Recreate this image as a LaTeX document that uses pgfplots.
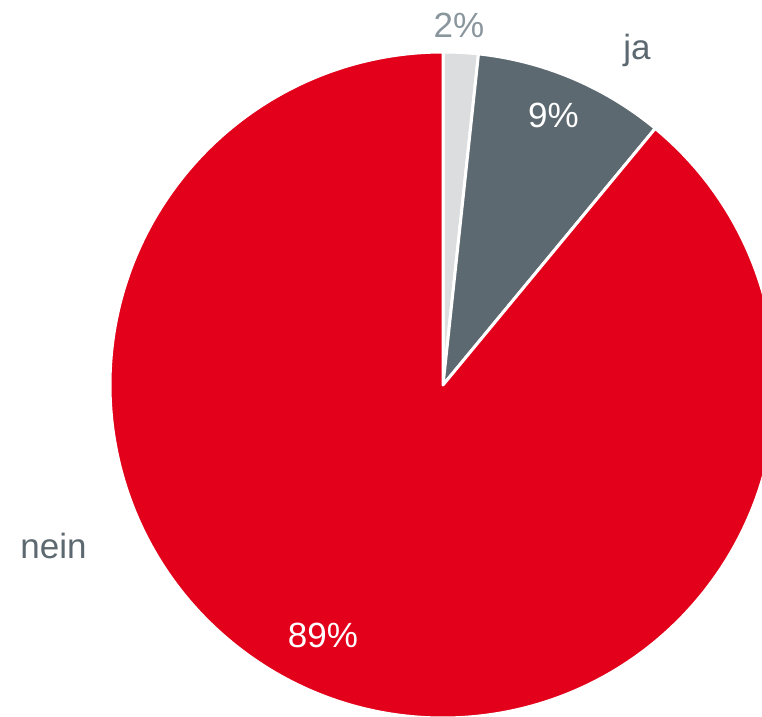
\documentclass[border=0pt]{standalone}
\usepackage{pgfplots}
\usepackage{pgfplotstable}
\pgfplotsset{compat=1.18}
\usepackage{fontspec}
\setmainfont{Liberation Sans}
\definecolor{redc}{HTML}{E2001A}
\definecolor{darkg}{HTML}{5D6970}
\definecolor{lightg}{HTML}{DCDDDF}
\definecolor{labg}{HTML}{8A969D}
\pgfplotstableread{
value
1.7
9.3
89.0
}\piedata
\begin{document}
\begin{tikzpicture}
\pgfplotstablegetelem{0}{value}\of\piedata \let\va\pgfplotsretval
\pgfplotstablegetelem{1}{value}\of\piedata \let\vb\pgfplotsretval
\pgfplotstablegetelem{2}{value}\of\piedata \let\vc\pgfplotsretval
\pgfmathsetmacro\aA{90}
\pgfmathsetmacro\aB{90-3.6*\va}
\pgfmathsetmacro\aC{\aB-3.6*\vb}
\pgfmathsetmacro\aD{\aC-3.6*\vc}
\begin{axis}[
  width=762pt, height=716pt, scale only axis,
  xmin=0, xmax=762, ymin=0, ymax=716,
  hide axis, clip=true,
]
\fill[lightg, draw=white, line width=3pt, line join=round] (axis cs:443,331) -- (axis cs:{443+333*cos(\aA)},{331+333*sin(\aA)}) arc[start angle=\aA, end angle=\aB, radius=333pt] -- cycle;
\fill[darkg, draw=white, line width=3pt, line join=round] (axis cs:443,331) -- (axis cs:{443+333*cos(\aB)},{331+333*sin(\aB)}) arc[start angle=\aB, end angle=\aC, radius=333pt] -- cycle;
\fill[redc, draw=white, line width=3pt, line join=round] (axis cs:443,331) -- (axis cs:{443+333*cos(\aC)},{331+333*sin(\aC)}) arc[start angle=\aC, end angle=\aD, radius=333pt] -- cycle;
\node[anchor=base, text=labg, inner sep=0pt, font=\fontsize{35}{40}\selectfont] at (axis cs:459,678) {2\%};
\node[anchor=base, text=darkg, inner sep=0pt, font=\fontsize{35}{40}\selectfont] at (axis cs:637,656) {ja};
\node[anchor=base, text=white, inner sep=0pt, font=\fontsize{35}{40}\selectfont] at (axis cs:553.5,588) {9\%};
\node[anchor=base, text=darkg, inner sep=0pt, font=\fontsize{35}{40}\selectfont] at (axis cs:53.5,158) {nein};
\node[anchor=base, text=white, inner sep=0pt, font=\fontsize{35}{40}\selectfont] at (axis cs:323,69) {89\%};
\end{axis}
\pgfresetboundingbox
\path[use as bounding box] (current axis.south west) rectangle (current axis.north east);
\end{tikzpicture}
\end{document}
